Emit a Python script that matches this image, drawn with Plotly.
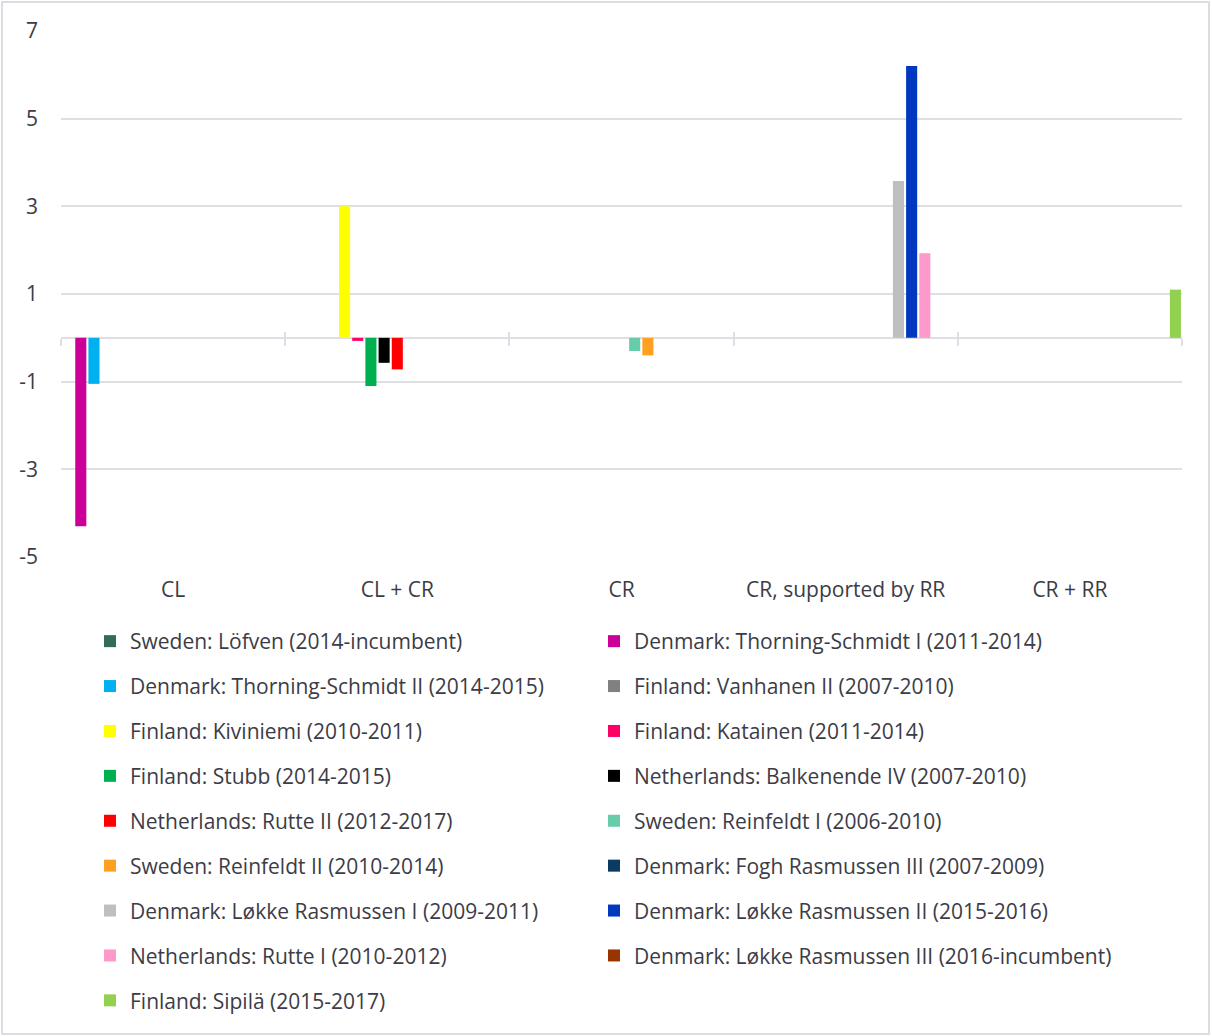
import plotly.graph_objects as go

categories = ["CL", "CL + CR", "CR", "CR, supported by RR", "CR + RR"]

series_names = [
    "Sweden: Löfven (2014-incumbent)",
    "Denmark: Thorning-Schmidt I (2011-2014)",
    "Denmark: Thorning-Schmidt II (2014-2015)",
    "Finland: Vanhanen II (2007-2010)",
    "Finland: Kiviniemi (2010-2011)",
    "Finland: Katainen (2011-2014)",
    "Finland: Stubb (2014-2015)",
    "Netherlands: Balkenende IV (2007-2010)",
    "Netherlands: Rutte II (2012-2017)",
    "Sweden: Reinfeldt I (2006-2010)",
    "Sweden: Reinfeldt II (2010-2014)",
    "Denmark: Fogh Rasmussen III (2007-2009)",
    "Denmark: Løkke Rasmussen I (2009-2011)",
    "Denmark: Løkke Rasmussen II (2015-2016)",
    "Netherlands: Rutte I (2010-2012)",
    "Denmark: Løkke Rasmussen III (2016-incumbent)",
    "Finland: Sipilä (2015-2017)",
]

N = None
series_values = [
    [N, N, N, N, N],
    [-4.3, N, N, N, N],
    [-1.05, N, N, N, N],
    [N, N, N, N, N],
    [N, 3.0, N, N, N],
    [N, -0.07, N, N, N],
    [N, -1.1, N, N, N],
    [N, -0.57, N, N, N],
    [N, -0.72, N, N, N],
    [N, N, -0.3, N, N],
    [N, N, -0.4, N, N],
    [N, N, N, N, N],
    [N, N, N, 3.58, N],
    [N, N, N, 6.2, N],
    [N, N, N, 1.93, N],
    [N, N, N, N, N],
    [N, N, N, N, 1.1],
]

series_colors = [
    "#336b57", "#cc0099", "#00b0f0", "#808080", "#ffff00", "#ff0066",
    "#00b050", "#000000", "#ff0000", "#66ccaa", "#ffa020", "#0b3a63",
    "#bfbfbf", "#0039c0", "#ff99cc", "#993300", "#92d050",
]

y_ticks = [-5, -3, -1, 1, 3, 5, 7]

W, H = 1212, 1036
ML, MR, MT, MB = 61, 30, 31, 479
PW = W - ML - MR
PH = H - MT - MB

TEXT = "#3c3c46"
GRID = "#dedee4"
FONT = "Open Sans"
FS = 21

fig = go.Figure()
for i, (name, vals, col) in enumerate(zip(series_names, series_values, series_colors)):
    fig.add_trace(go.Bar(
        x=categories, y=vals, name=name,
        marker=dict(color=col, line=dict(width=0)),
        legend="legend" if i % 2 == 0 else "legend2",
        legendgroup=name,
        hoverinfo="name+y",
    ))

# helper traces so the zero-line tick axes get drawn
for ax in ("x2", "x3"):
    fig.add_trace(go.Scatter(
        x=[0], y=[None], xaxis=ax, yaxis="y", mode="markers",
        showlegend=False, hoverinfo="skip",
    ))

def px_x(p):
    return (p - ML) / PW

def px_y(p):
    return (H - MB - p) / PH

leg_common = dict(
    orientation="v", traceorder="grouped", tracegroupgap=14.6,
    font=dict(family=FONT, size=FS, color=TEXT),
    bgcolor="rgba(0,0,0,0)", borderwidth=0,
    xanchor="left", yanchor="top", itemclick=False, itemdoubleclick=False,
)

zero_pos = (0 - y_ticks[0]) / (y_ticks[-1] - y_ticks[0])

fig.update_layout(
    width=W, height=H,
    margin=dict(l=ML, r=MR, t=MT, b=MB),
    paper_bgcolor="white", plot_bgcolor="white",
    font=dict(family=FONT, size=FS, color=TEXT),
    barmode="group", bargap=0.0, bargroupgap=0.16,
    legend=dict(x=px_x(90), y=px_y(621), **leg_common),
    legend2=dict(x=px_x(594), y=px_y(621), **leg_common),
    xaxis=dict(
        type="category", categoryorder="array", categoryarray=categories,
        showgrid=False, showline=False, ticks="", zeroline=False,
        tickfont=dict(family=FONT, size=FS, color=TEXT),
        ticklabelstandoff=18,
    ),
    xaxis2=dict(
        overlaying="x", anchor="free", position=zero_pos, side="bottom",
        range=[-0.5, len(categories) - 0.5], tick0=-0.5, dtick=1,
        ticks="outside", ticklen=7, tickwidth=2, tickcolor=GRID,
        showticklabels=False, showgrid=False, showline=False, zeroline=False,
    ),
    xaxis3=dict(
        overlaying="x", anchor="free", position=zero_pos, side="bottom",
        range=[-0.5, len(categories) - 0.5], tick0=-0.5, dtick=1,
        ticks="inside", ticklen=6, tickwidth=2, tickcolor=GRID,
        showticklabels=False, showgrid=False, showline=False, zeroline=False,
    ),
    yaxis=dict(
        range=[y_ticks[0], y_ticks[-1]], tickvals=y_ticks,
        ticktext=[str(v) for v in y_ticks],
        showgrid=True, gridcolor=GRID, gridwidth=2,
        zeroline=True, zerolinecolor=GRID, zerolinewidth=2,
        showline=False, ticks="", ticklabelstandoff=22,
        tickfont=dict(family=FONT, size=FS, color=TEXT),
    ),
    shapes=[dict(
        type="rect", xref="paper", yref="paper",
        x0=px_x(2), x1=px_x(1209), y0=px_y(1034), y1=px_y(2),
        line=dict(color="#dcdce2", width=2), fillcolor="rgba(0,0,0,0)", layer="below",
    )],
    showlegend=True,
)

fig.write_html("out.html")
